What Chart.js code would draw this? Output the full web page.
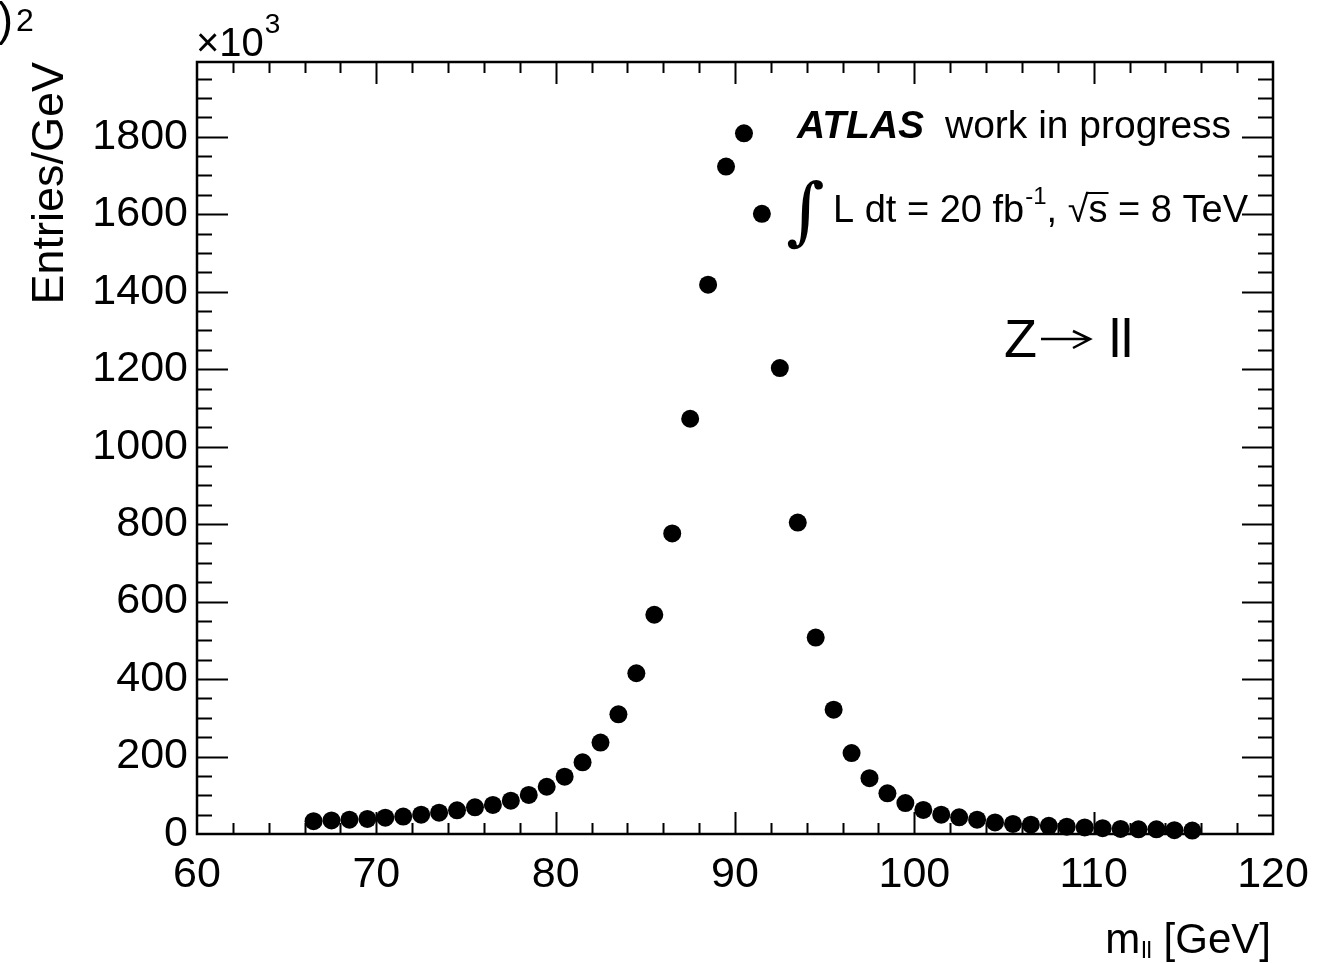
<!DOCTYPE html>
<html>
<head>
<meta charset="utf-8">
<title>Z to ll invariant mass</title>
<script src="https://cdn.jsdelivr.net/npm/chart.js@4.4.1/dist/chart.umd.min.js"></script>
<style>
  html, body { margin: 0; padding: 0; background: #fff; }
  canvas { display: block; }
</style>
</head>
<body>
<canvas id="chart" width="1331" height="963"></canvas>
<script>
// bin centres in GeV
const massBins = [
  66.5, 67.5, 68.5, 69.5, 70.5, 71.5, 72.5, 73.5, 74.5, 75.5,
  76.5, 77.5, 78.5, 79.5, 80.5, 81.5, 82.5, 83.5, 84.5, 85.5,
  86.5, 87.5, 88.5, 89.5, 90.5, 91.5, 92.5, 93.5, 94.5, 95.5,
  96.5, 97.5, 98.5, 99.5, 100.5, 101.5, 102.5, 103.5, 104.5, 105.5,
  106.5, 107.5, 108.5, 109.5, 110.5, 111.5, 112.5, 113.5, 114.5, 115.5
];
// entries per GeV, x10^3
const entries = [
  33, 35, 37, 39, 42, 45, 50, 55, 61, 69,
  75, 86, 101, 122, 148, 185, 236, 309, 415, 566,
  776, 1072, 1418, 1723, 1809, 1601, 1203, 804, 507, 321,
  209, 144, 105, 80, 62, 50, 43, 37, 30, 26,
  24, 21, 19, 17, 15, 13, 12, 12, 10, 9
];
const xTicks = [60, 70, 80, 90, 100, 110, 120];
const yTicks = [0, 200, 400, 600, 800, 1000, 1200, 1400, 1600, 1800];

const X_MIN = 60, X_MAX = 120;
const Y_MIN = 0, Y_MAX = 1993;
const FONT = '"Liberation Sans", Arial, Helvetica, sans-serif';

Chart.defaults.color = '#000';
Chart.defaults.font.family = FONT;

// ROOT style frame, inward ticks and the text labels
const rootDecor = {
  id: 'rootDecor',
  afterDraw(chart) {
    const ctx = chart.ctx;
    const a = chart.chartArea;
    const x = chart.scales.x;
    const y = chart.scales.y;
    ctx.save();
    ctx.strokeStyle = '#000';
    ctx.fillStyle = '#000';
    ctx.lineWidth = 2;

    ctx.beginPath();
    for (let v = X_MIN + 2; v < X_MAX; v += 2) {
      const px = Math.round(x.getPixelForValue(v)) + 0.5;
      const len = v % 10 === 0 ? 22 : 11;
      ctx.moveTo(px, a.bottom); ctx.lineTo(px, a.bottom - len);
      ctx.moveTo(px, a.top); ctx.lineTo(px, a.top + len);
    }
    for (let v = Y_MIN + 50; v < Y_MAX; v += 50) {
      const py = Math.round(y.getPixelForValue(v)) + 0.5;
      const len = v % 200 === 0 ? 31 : 15;
      ctx.moveTo(a.left, py); ctx.lineTo(a.left + len, py);
      ctx.moveTo(a.right, py); ctx.lineTo(a.right - len, py);
    }
    ctx.stroke();

    ctx.lineWidth = 2.5;
    ctx.strokeRect(a.left, a.top, a.right - a.left, a.bottom - a.top);

    ctx.textBaseline = 'alphabetic';
    ctx.textAlign = 'left';

    // y axis title
    ctx.save();
    ctx.translate(63, 62);
    ctx.rotate(-Math.PI / 2);
    ctx.textAlign = 'right';
    ctx.font = '45px ' + FONT;
    ctx.fillText('Entries/GeV', 0, 0);
    ctx.restore();

    // leftover label at the top left corner
    ctx.font = '46px ' + FONT;
    ctx.textAlign = 'right';
    ctx.fillText(')', 13, 35);
    ctx.textAlign = 'left';
    ctx.font = '32px ' + FONT;
    ctx.fillText('2', 16, 31);

    // exponent of the y axis
    ctx.font = '40px ' + FONT;
    ctx.fillText('\u00d710', 196, 56);
    let w = ctx.measureText('\u00d710').width;
    ctx.font = '28px ' + FONT;
    ctx.fillText('3', 196 + w + 1, 33);

    // x axis title
    ctx.font = '42px ' + FONT;
    const t1 = 'm', t3 = ' [GeV]';
    const w1 = ctx.measureText(t1).width;
    const w3 = ctx.measureText(t3).width;
    ctx.font = '24px ' + FONT;
    const w2 = ctx.measureText('ll').width;
    let sx = 1270 - w1 - w2 - w3;
    ctx.font = '42px ' + FONT;
    ctx.fillText(t1, sx, 953);
    ctx.font = '24px ' + FONT;
    ctx.fillText('ll', sx + w1 + 1, 958);
    ctx.font = '42px ' + FONT;
    ctx.fillText(t3, sx + w1 + w2 + 1, 953);

    // ATLAS label
    ctx.font = 'italic bold 39px ' + FONT;
    ctx.fillText('ATLAS', 797, 138);
    ctx.font = '39px ' + FONT;
    ctx.fillText('work in progress', 945, 138);

    // luminosity line
    ctx.font = '74px "DejaVu Serif", serif';
    ctx.fillText('\u222b', 786, 236);
    sx = 833;
    const base = 222;
    ctx.font = '38px ' + FONT;
    ctx.fillText('L dt = 20 fb', sx, base);
    sx += ctx.measureText('L dt = 20 fb').width;
    ctx.font = '24px ' + FONT;
    ctx.fillText('-1', sx + 1, 204);
    sx += ctx.measureText('-1').width + 1;
    ctx.font = '38px ' + FONT;
    ctx.fillText(', ', sx, base);
    sx += ctx.measureText(', ').width;
    ctx.fillText('\u221a', sx, base);
    sx += ctx.measureText('\u221a').width;
    const ws = ctx.measureText('s').width;
    ctx.fillText('s', sx, base);
    ctx.lineWidth = 2;
    ctx.beginPath();
    ctx.moveTo(sx - 2, 193); ctx.lineTo(sx + ws + 1, 193);
    ctx.stroke();
    sx += ws;
    ctx.fillText(' = 8 TeV', sx, base);

    // process label
    ctx.font = '54px ' + FONT;
    ctx.fillText('Z', 1004, 357);
    ctx.lineWidth = 2.5;
    ctx.beginPath();
    ctx.moveTo(1041, 339); ctx.lineTo(1090, 339);
    ctx.moveTo(1073, 331); ctx.lineTo(1090, 339); ctx.lineTo(1073, 348);
    ctx.stroke();
    ctx.fillText('ll', 1109, 357);

    ctx.restore();
  }
};

new Chart(document.getElementById('chart'), {
  type: 'scatter',
  data: {
    datasets: [{
      label: 'Data',
      data: massBins.map((m, i) => ({ x: m, y: entries[i] })),
      pointRadius: 9,
      pointHoverRadius: 9,
      pointBackgroundColor: '#000',
      pointBorderWidth: 0,
      showLine: false,
      clip: false
    }]
  },
  options: {
    responsive: false,
    animation: false,
    events: [],
    layout: { padding: { top: 62, right: 58, left: 0, bottom: 0 } },
    plugins: {
      legend: { display: false },
      tooltip: { enabled: false }
    },
    scales: {
      x: {
        type: 'linear',
        min: X_MIN,
        max: X_MAX,
        grid: { display: false, drawTicks: false },
        border: { display: false },
        afterBuildTicks: s => { s.ticks = xTicks.map(v => ({ value: v })); },
        afterFit: s => { s.height = 129; },
        ticks: { font: { size: 43 }, padding: 15, maxRotation: 0, autoSkip: false,
                 callback: v => String(v) }
      },
      y: {
        type: 'linear',
        min: Y_MIN,
        max: Y_MAX,
        grid: { display: false, drawTicks: false },
        border: { display: false },
        afterBuildTicks: s => { s.ticks = yTicks.map(v => ({ value: v })); },
        afterFit: s => { s.width = 197; },
        ticks: { font: { size: 43 }, padding: 9, autoSkip: false,
                 callback: v => String(v) }
      }
    }
  },
  plugins: [rootDecor]
});
</script>
</body>
</html>
